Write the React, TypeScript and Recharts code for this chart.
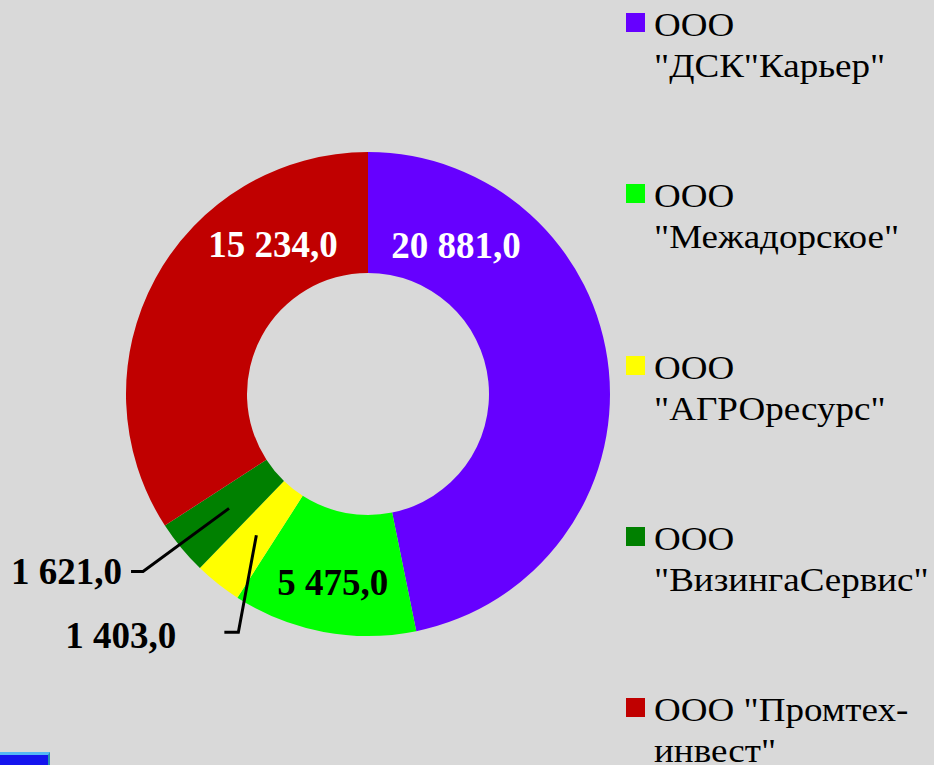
import { PieChart, Pie, Cell, Legend } from "recharts"

const NAMES = [
  'ООО "ДСК"Карьер"',
  'ООО "Межадорское"',
  'ООО "АГРОресурс"',
  'ООО "ВизингаСервис"',
  'ООО "Промтех-инвест"',
]
const VALUES = [20881, 5475, 1403, 1621, 15234]
const COLORS = ["#6600ff", "#00ff00", "#ffff00", "#008000", "#c00000"]

// label placement per slice: inside (angle/radius) or outside with a leader line
const LABEL_COLOR = ["#fff", "#000", "#000", "#000", "#fff"]
const LABEL_ANGLE: (number | null)[] = [59.4, null, null, null, 122.5]
const LABEL_R = [173, 192, 0, 0, 177]
const LEADER: ({ dx: number; dy: number; tail: number; gap: number; tdy: number } | null)[] = [
  null,
  null,
  { dx: -18, dy: 97, tail: 14, gap: 48, tdy: 3 },
  { dx: -86, dy: 63, tail: 12, gap: 9, tdy: 0 },
  null,
]

const BG = "#d9d9d9"
const FONT = "'Liberation Serif', 'Times New Roman', serif"
const RAD = Math.PI / 180

const data = NAMES.map((name, i) => ({ name, value: VALUES[i] }))

function fmt(v: number) {
  const s = String(v).replace(/\B(?=(\d{3})+(?!\d))/g, " ")
  return s + ",0"
}

function renderLabel(props: any) {
  const { cx, cy, midAngle, index, value } = props
  const leader = LEADER[index]
  if (leader) {
    const r0 = 180
    const x0 = cx + r0 * Math.cos(-midAngle * RAD)
    const y0 = cy + r0 * Math.sin(-midAngle * RAD)
    const x1 = x0 + leader.dx
    const y1 = y0 + leader.dy
    const x2 = x1 - leader.tail
    return (
      <g>
        <polyline
          points={`${x0},${y0} ${x1},${y1} ${x2},${y1}`}
          fill="none" stroke="#000" strokeWidth={3}
        />
        <text
          x={x2 - leader.gap} y={y1 + leader.tdy} textAnchor="end" dominantBaseline="central"
          fontFamily={FONT} fontWeight="bold" fontSize={37} fill="#000"
        >
          {fmt(value)}
        </text>
      </g>
    )
  }
  const ang = LABEL_ANGLE[index] ?? midAngle
  const r = LABEL_R[index]
  const x = cx + r * Math.cos(-ang * RAD)
  const y = cy + r * Math.sin(-ang * RAD)
  return (
    <text
      x={x} y={y} textAnchor="middle" dominantBaseline="central"
      fontFamily={FONT} fontWeight="bold" fontSize={37} fill={LABEL_COLOR[index]}
    >
      {fmt(value)}
    </text>
  )
}

function LegendContent() {
  return (
    <div>
      {NAMES.map((n, i) => (
        <div key={n} style={{ position: "absolute", top: 4 + i * 171.3, left: 0, width: 310 }}>
          <span
            style={{
              position: "absolute", left: 0, top: 9, width: 19, height: 19,
              backgroundColor: COLORS[i],
            }}
          />
          <div
            style={{
              marginLeft: 28, width: 257, fontFamily: FONT, fontSize: 34,
              lineHeight: "41px", color: "#000", textAlign: "left",
              transform: "scaleX(1.09)", transformOrigin: "left top",
            }}
          >
            {n}
          </div>
        </div>
      ))}
    </div>
  )
}

export default function App() {
  return (
    <div style={{ position: "relative", width: 934, height: 765, background: BG, overflow: "hidden" }}>
      <style>{"body{margin:0}"}</style>
      <PieChart width={934} height={765} margin={{ top: 0, right: 0, bottom: 0, left: 0 }}>
        <Pie
          data={data} dataKey="value" nameKey="name"
          cx={368} cy={394} innerRadius={121} outerRadius={242}
          startAngle={90} endAngle={-270}
          stroke="none" label={renderLabel} labelLine={false}
          isAnimationActive={false}
        >
          {data.map((d, i) => (
            <Cell key={d.name} fill={COLORS[i]} stroke="none" />
          ))}
        </Pie>
        <Legend
          content={<LegendContent />}
          wrapperStyle={{ position: "absolute", top: 0, left: 626, width: 308, height: 765 }}
        />
      </PieChart>
      <div
        style={{
          position: "absolute", left: 0, top: 752, width: 48, height: 13,
          background: "#1414ee", borderTop: "3px solid #55b8f5", borderRight: "2px solid #2a90b0",
        }}
      />
    </div>
  )
}
